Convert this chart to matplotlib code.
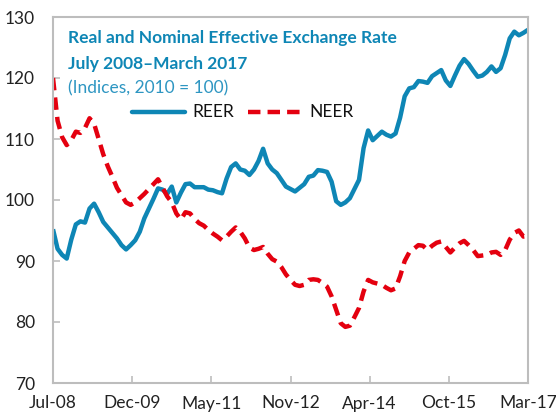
import numpy as np
import matplotlib
matplotlib.use("Agg")
import matplotlib.pyplot as plt

# monthly index values, Jul-08 .. Mar-17 (105 months)
reer = [95.2, 92.0, 91.0, 90.4, 93.5, 96.0, 96.5, 96.3, 98.6, 99.4,
        98.0, 96.4, 95.5, 94.6, 93.7, 92.6, 91.9, 92.6, 93.4, 94.8,
        97.0, 98.6, 100.2, 101.9, 101.7, 101.0, 102.2, 99.6, 101.2, 102.6,
        102.7, 102.1, 102.1, 102.1, 101.7, 101.6, 101.3, 101.1, 103.5, 105.4,
        106.0, 105.0, 104.8, 104.1, 105.0, 106.4, 108.4, 106.0, 105.0, 104.4,
        103.3, 102.2, 101.8, 101.4, 102.0, 102.6, 103.8, 104.0, 104.9, 104.8,
        104.6, 103.0, 99.8, 99.2, 99.6, 100.3, 101.8, 103.3, 108.5, 111.4,
        109.8, 110.5, 111.2, 110.7, 110.4, 110.9, 113.5, 117.0, 118.3, 118.5,
        119.5, 119.4, 119.2, 120.3, 120.8, 121.3, 119.6, 118.7, 120.4, 122.0,
        123.1, 122.3, 121.2, 120.2, 120.4, 121.0, 121.9, 121.0, 121.6, 123.8,
        126.5, 127.6, 127.0, 127.4, 127.9]

neer = [120.0, 113.0, 110.3, 109.0, 109.8, 111.2, 111.0, 111.8, 113.4, 112.5,
        110.0, 107.5, 105.5, 103.8, 102.0, 100.8, 99.6, 99.2, 99.6, 100.3,
        101.0, 101.8, 102.6, 103.4, 102.0, 100.6, 99.6, 97.8, 96.8, 98.0,
        97.8, 96.9, 96.2, 95.8, 95.1, 94.5, 94.0, 93.4, 94.0, 94.8,
        95.5, 94.8, 93.7, 92.2, 91.8, 92.0, 92.3, 91.2, 90.3, 89.9,
        89.0, 87.8, 86.9, 86.1, 85.9, 86.1, 86.9, 87.0, 86.9, 86.4,
        85.8, 84.2, 82.0, 79.8, 79.2, 79.4, 80.8, 82.3, 85.0, 86.9,
        86.5, 86.3, 86.1, 85.6, 85.2, 85.5, 87.5, 90.0, 91.4, 92.0,
        92.6, 92.5, 91.8, 92.5, 93.0, 93.2, 92.3, 91.4, 92.2, 92.9,
        93.3, 92.6, 91.8, 90.8, 90.9, 91.0, 91.4, 91.5, 91.0, 91.8,
        93.5, 94.6, 95.0, 94.0, 94.1]

xtick_labels = ["Jul-08", "Dec-09", "May-11", "Nov-12", "Apr-14", "Oct-15", "Mar-17"]
yticks = [70, 80, 90, 100, 110, 120, 130]

blue = "#0e86b5"
red = "#e4000f"
frame = "#bdbdbd"

plt.rcParams["font.family"] = ["Lato", "DejaVu Sans"]

fig = plt.figure(figsize=(5.56, 4.2), dpi=100)
fig.patch.set_facecolor("white")
ax = fig.add_axes([53 / 556, 1 - 383 / 420, (528 - 53) / 556, (383 - 17) / 420])

months = np.arange(len(reer))
ax.plot(months, reer, color=blue, lw=3.2, solid_capstyle="butt", solid_joinstyle="round")
ax.plot(months, neer, color=red, lw=3.2, dashes=(2.8, 1.6), dash_capstyle="butt")

ax.set_xlim(0, len(reer) - 1)
ax.set_ylim(70, 130)
ax.set_xticks(np.linspace(0, len(reer) - 1, len(xtick_labels)))
ax.set_xticklabels(xtick_labels)
ax.set_yticks(yticks)

for s in ax.spines.values():
    s.set_color(frame)
    s.set_linewidth(1.5)
ax.tick_params(direction="in", length=5, width=1.2, color=frame,
               labelsize=12.5, labelcolor="#222222")
ax.tick_params(axis="x", pad=9)
ax.tick_params(axis="y", pad=13)

# title block
fig.text(68 / 556, 1 - 43 / 420, "Real and Nominal Effective Exchange Rate",
         color=blue, fontsize=12.5, fontweight="bold", va="baseline")
fig.text(68 / 556, 1 - 69 / 420, "July 2008\u2013March 2017",
         color=blue, fontsize=12.5, fontweight="bold", va="baseline")
fig.text(68 / 556, 1 - 93 / 420, "(Indices, 2010 = 100)",
         color="#2e96c2", fontsize=12.5, va="baseline")

# legend drawn by hand to sit like the original
ax.plot([0.166, 0.278], [0.74, 0.74], transform=ax.transAxes, color=blue, lw=3.2, solid_capstyle="round")
ax.text(0.293, 0.74, "REER", transform=ax.transAxes, va="center", fontsize=12.5, color="#111111")
ax.plot([0.41, 0.52], [0.74, 0.74], transform=ax.transAxes, color=red, lw=3.2, dashes=(2.8, 1.6))
ax.text(0.54, 0.74, "NEER", transform=ax.transAxes, va="center", fontsize=12.5, color="#111111")

fig.savefig("out.png", dpi=100, facecolor="white")
